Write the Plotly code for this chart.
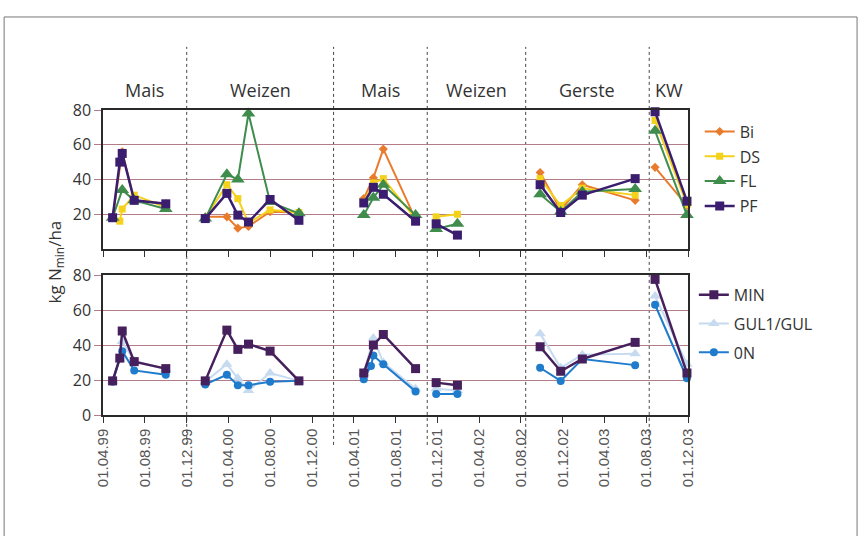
import pandas as pd
import plotly.graph_objects as go

# Sampling dates and the crop period each belongs to
dates = ["1999-04-29", "1999-05-20", "1999-05-27", "1999-07-01", "1999-10-01",
         "2000-01-24", "2000-03-27", "2000-04-28", "2000-05-29", "2000-07-31", "2000-10-23",
         "2001-04-30", "2001-05-21", "2001-05-28", "2001-06-26", "2001-09-28",
         "2001-11-27", "2002-01-28",
         "2002-09-26", "2002-11-25", "2003-01-27", "2003-06-30",
         "2003-08-27", "2003-11-28"]
period = [0, 0, 0, 0, 0,
          1, 1, 1, 1, 1, 1,
          2, 2, 2, 2, 2,
          3, 3,
          4, 4, 4, 4,
          5, 5]

# Crop periods and their boundaries
crops = ["Mais", "Weizen", "Mais", "Weizen", "Gerste", "KW"]
crop_bounds = ["1999-04-01", "1999-12-01", "2001-02-01", "2001-11-01",
               "2002-08-15", "2003-08-10", "2003-12-01"]

# Upper panel: soil tillage variants (kg Nmin/ha)
Bi = [18, None, 56, 28, 26, 18.5, 18.5, 12, 13, 21.5, 21, 29, None, 41, 57.5, 17,
      None, None, 44, 22.5, 37, 28, 47, 25]
DS = [18, 16, 23, 31, 24, 18, 37, 29, 15, 22.5, 21, 27, None, 38, 40.5, 17.5,
      18.5, 20, 40.5, 25, 35, 31, 74, 25.5]
FL = [18, None, 34, 28, 23, 17.5, 43, 40, 78, 27, 20.5, 19.5, None, 29.5, 37, 19.5,
      11.5, 14.5, 31.5, 21.5, 33, 34.5, 68, 19.5]
PF = [18, 50, 55, 28, 26, 17.5, 32, 19.5, 15.5, 28.5, 16.5, 26.5, None, 35.5, 31.5, 16,
      14.5, 8, 37, 21, 31, 40.5, 79, 27.5]

# Lower panel: fertilisation variants (kg Nmin/ha)
MIN = [19.5, 32.5, 48, 30.5, 26.5, 19.5, 48.5, 37.5, 40.5, 36.5, 19.5, 24, None, 40, 46, 26.5,
       18.5, 17, 39, 25, 32, 41.5, 77.5, 24]
GUL = [19.5, 32, 42, 31, 26, 19, 29, 21, 14, 24, 19.5, 24, None, 44, 30, 15,
       15, 14, 46.5, 27, 34.5, 35, 68, 29]
N0 = [19, 32.5, 36.5, 25.5, 23, 17.5, 23, 17, 17, 19, 19.5, 20.5, 28, 34, 29, 13.5,
      12, 12, 27, 19.5, 32, 28.5, 63, 21]

# X ticks every four months
tick_dates = pd.date_range("1999-04-01", "2003-12-01", freq="4MS")
tick_text = [d.strftime("%d.%m.%y") for d in tick_dates]


def segments(values):
    """Split a series into one line per crop period (None breaks the line)."""
    xs, ys = [], []
    prev = None
    for d, p, v in zip(dates, period, values):
        if v is None:
            continue
        if prev is not None and p != prev:
            xs.append(None)
            ys.append(None)
        xs.append(d)
        ys.append(v)
        prev = p
    return xs, ys


fig = go.Figure()

top_series = [
    ("Bi", Bi, "#E97B2C", "diamond", 7, 2),
    ("DS", DS, "#F4D11A", "square", 7, 2),
    ("FL", FL, "#3F8C4C", "triangle-up", 12, 2),
    ("PF", PF, "#3A1D6E", "square", 9, 2.5),
]
for name, vals, col, sym, size, lw in top_series:
    xs, ys = segments(vals)
    fig.add_trace(go.Scatter(
        x=xs, y=ys, name=name, mode="lines+markers",
        line=dict(color=col, width=lw),
        marker=dict(symbol=sym, size=size, color=col),
        xaxis="x", yaxis="y", legend="legend", cliponaxis=False,
        legendgroup=name,
    ))

bottom_series = [
    ("GUL1/GUL", GUL, "#C6DAF0", "triangle-up", 10, 2, 2),
    ("0N", N0, "#1F7BCB", "circle", 8, 2, 3),
    ("MIN", MIN, "#45205C", "square", 9, 2.5, 1),
]
for name, vals, col, sym, size, lw, rank in bottom_series:
    xs, ys = segments(vals)
    fig.add_trace(go.Scatter(
        x=xs, y=ys, name=name, mode="lines+markers",
        line=dict(color=col, width=lw),
        marker=dict(symbol=sym, size=size, color=col),
        xaxis="x2", yaxis="y2", legend="legend2", cliponaxis=False,
        legendrank=rank, legendgroup=name,
    ))

grid_col = "#B47C88"
axis_common = dict(
    showline=True, linecolor="#2A2A2A", linewidth=1.5, mirror=True,
    zeroline=False,
)
xrange = ["1999-04-01", "2003-12-01"]
fig.update_layout(
    width=860, height=536,
    margin=dict(l=103, r=172, t=110, b=121),
    paper_bgcolor="white", plot_bgcolor="white",
    xaxis=dict(domain=[0, 1], range=xrange, type="date", anchor="y",
               tickvals=tick_dates, ticktext=tick_text, showticklabels=False,
               ticks="outside", ticklen=6, tickcolor="#333", showgrid=False,
               **axis_common),
    yaxis=dict(domain=[0.5443, 1], range=[0, 80], anchor="x",
               tickvals=[20, 40, 60, 80], ticks="outside", ticklen=7,
               tickcolor=grid_col, showgrid=True, gridcolor=grid_col, gridwidth=1,
               tickfont=dict(family="Open Sans", size=16, color="#333"),
               **axis_common),
    xaxis2=dict(domain=[0, 1], range=xrange, type="date", anchor="y2",
                tickvals=tick_dates, ticktext=tick_text, tickangle=-90,
                ticks="outside", ticklen=6, tickcolor="#333", showgrid=False,
                tickfont=dict(family="Liberation Sans", size=15, color="#555"),
                **axis_common),
    yaxis2=dict(domain=[0, 0.459], range=[0, 80], anchor="x2",
                tickvals=[0, 20, 40, 60, 80], ticks="outside", ticklen=7,
                tickcolor=grid_col, showgrid=True, gridcolor=grid_col, gridwidth=1,
                tickfont=dict(family="Open Sans", size=16, color="#333"),
                **axis_common),
    legend=dict(x=1.02, y=0.985, xanchor="left", yanchor="top",
                font=dict(family="Open Sans", size=16, color="#333"),
                bgcolor="rgba(0,0,0,0)", tracegroupgap=1),
    legend2=dict(x=1.01, y=0.45, xanchor="left", yanchor="top",
                 font=dict(family="Open Sans", size=16, color="#333"),
                 bgcolor="rgba(0,0,0,0)", tracegroupgap=5),
    showlegend=True,
)

# Dotted separators between crop periods
shapes = []
for b in crop_bounds[1:-1]:
    shapes.append(dict(type="line", xref="x", yref="paper", x0=b, x1=b,
                       y0=-0.098, y1=1.207,
                       line=dict(color="#444", width=1, dash="dot"), layer="below"))
# Outer frame
shapes.append(dict(type="rect", xref="paper", yref="paper",
                   x0=-0.169, x1=1.289, y0=-0.45, y1=1.305,
                   line=dict(color="#777", width=1)))
fig.update_layout(shapes=shapes)

# Crop names centred over their periods
bounds_ts = pd.to_datetime(crop_bounds)
for i, crop in enumerate(crops):
    mid = bounds_ts[i] + (bounds_ts[i + 1] - bounds_ts[i]) / 2
    fig.add_annotation(x=mid, xref="x", y=1.066, yref="paper", text=crop,
                       xanchor="center", yanchor="middle",
                       showarrow=False, font=dict(family="Open Sans", size=18, color="#333"))

fig.add_annotation(x=-0.082, y=0.50, xref="paper", yref="paper",
                   xanchor="center", yanchor="middle",
                   text="kg N<sub>min</sub>/ha", textangle=-90, showarrow=False,
                   font=dict(family="Open Sans", size=17, color="#333"))

fig.write_html("out.html")
